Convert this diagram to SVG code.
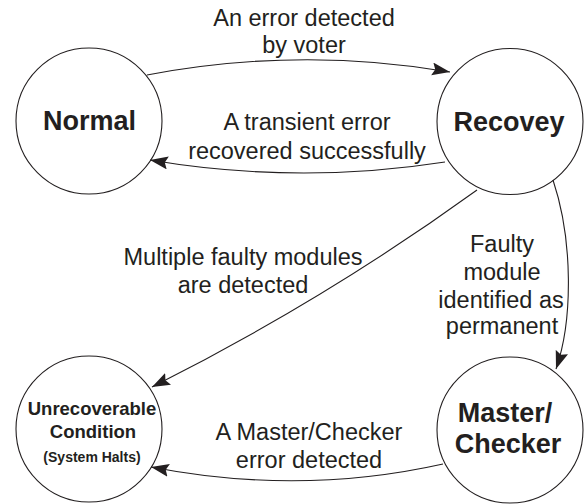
<svg xmlns="http://www.w3.org/2000/svg" width="584" height="504" viewBox="0 0 584 504">
<style>
.node{fill:#fff;stroke:#231f20;stroke-width:1.1}
.lbl{font-family:"Liberation Sans",Arial,sans-serif;font-size:23.5px;fill:#231f20;text-anchor:middle}
.nl{font-family:"Liberation Sans",Arial,sans-serif;font-weight:bold;font-size:27px;fill:#231f20;text-anchor:middle}
.sm{font-family:"Liberation Sans",Arial,sans-serif;font-weight:bold;fill:#231f20;text-anchor:middle}
.edge{fill:none;stroke:#231f20;stroke-width:1.1;marker-end:url(#ah)}
</style>
<defs>
<marker id="ah" markerUnits="userSpaceOnUse" markerWidth="20" markerHeight="14" refX="18" refY="6.5" orient="auto">
<path d="M0,0 L18,6.5 L0,13 L3,6.5 z" fill="#231f20"/>
</marker>
</defs>
<rect width="584" height="504" fill="#fff"/>
<g id="normal">
<circle class="node" cx="89" cy="121" r="73"/>
<text class="nl" x="89.5" y="130">Normal</text>
</g>
<g id="recovey">
<circle class="node" cx="510" cy="121.5" r="73"/>
<text class="nl" x="509" y="131">Recovey</text>
</g>
<g id="unrecoverable">
<circle class="node" cx="89" cy="429" r="73"/>
<text class="sm" x="92" y="415" font-size="18.5">Unrecoverable</text>
<text class="sm" x="93" y="438" font-size="18.5">Condition</text>
<text class="sm" x="92" y="462" font-size="14">(System Halts)</text>
</g>
<g id="master">
<circle class="node" cx="510" cy="430" r="73"/>
<text class="nl" x="505" y="422">Master/</text>
<text class="nl" x="508" y="453">Checker</text>
</g>
<g id="edges">
<path class="edge" d="M147,75 Q300,46 450,72"/>
<path class="edge" d="M445,162 Q298,185 150,160"/>
<path class="edge" d="M477,190 Q325,300 152,387"/>
<path class="edge" d="M553,180 C573,240 573,320 556,369"/>
<path class="edge" d="M443,464 Q300,496 151,467"/>
</g>
<g id="labels">
<text class="lbl" x="304" y="26">An error detected</text>
<text class="lbl" x="304" y="53">by voter</text>
<text class="lbl" x="307" y="130">A transient error</text>
<text class="lbl" x="307" y="159">recovered successfully</text>
<text class="lbl" x="243" y="265">Multiple faulty modules</text>
<text class="lbl" x="243" y="293">are detected</text>
<text class="lbl" x="502" y="252">Faulty</text>
<text class="lbl" x="502" y="280">module</text>
<text class="lbl" x="501" y="308">identified as</text>
<text class="lbl" x="502" y="334">permanent</text>
<text class="lbl" x="309" y="440">A Master/Checker</text>
<text class="lbl" x="309" y="468">error detected</text>
</g>
</svg>
